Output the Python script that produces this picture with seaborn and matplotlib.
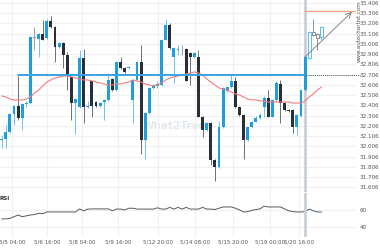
import matplotlib
matplotlib.use('Agg')
import matplotlib.pyplot as plt
import seaborn as sns
import pandas as pd
import numpy as np

# ---------------- data ----------------
opens = [32.065, 32.079, 32.147, 32.323, 32.401, 32.284, 32.421, 32.431, 33.070, 33.055,
         33.100, 33.060, 33.230, 33.170, 32.980, 33.020, 32.899, 32.680, 32.430, 32.390,
         32.870, 32.390, 32.640, 32.440, 32.400, 32.440, 32.460, 32.665, 32.557, 32.830,
         32.770, 32.770, 32.460, 32.655, 32.830, 32.069, 32.330, 32.580, 32.600, 32.610,
         33.045, 33.190, 32.880, 32.950, 32.960, 32.960, 32.920, 32.880, 32.880, 32.295,
         32.167, 32.235, 31.874, 31.806, 32.196, 32.550, 32.590, 32.645, 32.390, 32.313,
         32.069, 32.196, 32.245, 32.280, 32.390, 32.480, 32.295, 32.460, 32.620, 32.430,
         32.362, 32.362, 32.196, 32.300, 32.557, 32.870, 33.120, 33.100, 33.070]
highs = [32.118, 32.216, 32.333, 32.411, 32.694, 32.430, 32.450, 33.084, 33.170, 33.110,
         33.240, 33.250, 33.280, 33.180, 33.030, 33.030, 32.930, 32.690, 32.480, 32.947,
         32.960, 32.450, 32.650, 32.450, 32.440, 32.470, 32.720, 32.670, 32.840, 32.880,
         32.780, 32.790, 32.660, 32.840, 33.000, 32.340, 32.590, 32.620, 32.640, 33.050,
         33.250, 33.210, 32.980, 33.000, 33.000, 32.970, 32.930, 32.930, 32.947, 32.300,
         32.240, 32.240, 31.880, 32.250, 32.590, 32.600, 32.704, 32.684, 32.400, 32.320,
         32.200, 32.250, 32.300, 32.330, 32.500, 32.557, 32.470, 32.640, 32.650, 32.440,
         32.370, 32.370, 32.320, 32.560, 32.890, 33.130, 33.250, 33.110, 33.180]
lows = [31.990, 31.990, 32.137, 32.220, 32.265, 32.167, 32.390, 32.420, 32.947, 32.879,
        33.040, 33.050, 33.160, 32.830, 32.970, 32.772, 32.557, 32.265, 32.130, 32.380,
        32.235, 32.380, 32.293, 32.390, 32.390, 32.265, 32.450, 32.550, 32.550, 32.760,
        32.720, 32.760, 32.235, 32.650, 31.930, 31.880, 32.320, 32.570, 32.580, 32.600,
        33.040, 32.960, 32.625, 32.900, 32.900, 32.640, 32.606, 32.870, 32.290, 32.100,
        32.160, 31.826, 31.670, 31.800, 32.190, 32.540, 32.580, 32.380, 32.300, 31.880,
        32.060, 32.190, 32.240, 32.270, 32.293, 32.290, 32.290, 32.450, 32.235, 32.350,
        32.340, 32.140, 32.118, 32.290, 32.550, 32.860, 33.080, 32.950, 33.040]
closes = [32.075, 32.147, 32.323, 32.401, 32.284, 32.421, 32.431, 33.074, 33.065, 33.100,
          33.045, 33.230, 33.170, 32.980, 33.020, 32.899, 32.694, 32.430, 32.470, 32.870,
          32.390, 32.400, 32.400, 32.400, 32.430, 32.460, 32.655, 32.557, 32.830, 32.770,
          32.730, 32.780, 32.655, 32.830, 32.069, 32.330, 32.580, 32.610, 32.620, 33.045,
          33.190, 32.970, 32.970, 32.960, 32.955, 32.645, 32.880, 32.920, 32.295, 32.167,
          32.235, 31.874, 31.806, 32.196, 32.577, 32.590, 32.645, 32.390, 32.313, 32.069,
          32.196, 32.245, 32.280, 32.313, 32.480, 32.295, 32.460, 32.626, 32.430, 32.362,
          32.355, 32.196, 32.313, 32.557, 32.880, 33.120, 33.090, 33.060, 33.170]
ma_values = [32.499, 32.489, 32.469, 32.460, 32.460, 32.460, 32.469, 32.489, 32.528, 32.557,
             32.596, 32.635, 32.655, 32.674, 32.684, 32.694, 32.694, 32.684, 32.674, 32.665,
             32.655, 32.655, 32.645, 32.635, 32.626, 32.616, 32.606, 32.606, 32.616, 32.616,
             32.626, 32.635, 32.655, 32.645, 32.635, 32.616, 32.606, 32.596, 32.606, 32.626,
             32.655, 32.674, 32.684, 32.694, 32.704, 32.713, 32.723, 32.733, 32.723, 32.704,
             32.665, 32.635, 32.606, 32.577, 32.567, 32.557, 32.538, 32.518, 32.508, 32.489,
             32.469, 32.460, 32.460, 32.450, 32.450, 32.440, 32.440, 32.440, 32.440, 32.440,
             32.440, 32.430, 32.430, 32.430, 32.450, 32.489, 32.518, 32.557, 32.586]
rsi_values = [49.4, 49.4, 50.0, 52.0, 54.0, 52.0, 53.0, 54.0, 54.5, 56.0,
              55.5, 57.6, 57.6, 57.6, 57.6, 57.6, 57.6, 57.6, 57.6, 61.2,
              59.0, 61.0, 61.2, 61.2, 61.2, 61.2, 61.2, 59.0, 61.0, 61.0,
              60.0, 62.0, 62.0, 61.0, 61.0, 61.0, 61.0, 61.0, 62.5, 61.0,
              61.0, 63.0, 61.0, 63.0, 61.0, 63.0, 61.0, 61.0, 61.0, 63.0,
              61.0, 61.0, 60.5, 62.0, 63.5, 63.5, 63.5, 62.0, 60.0, 57.5,
              58.0, 59.5, 60.5, 61.2, 64.5, 63.5, 63.5, 63.5, 63.5, 61.2,
              59.0, 58.0, 57.6, 57.6, 58.0, 61.0, 59.0, 57.6, 57.6]
x_tick_labels = ['5/5 04:00', '5/6 16:00', '5/8 04:00', '5/9 16:00', '5/12 20:00',
                 '5/14 08:00', '5/15 20:00', '5/19 00:00', '5/20 16:00']
x_tick_pos = [2.5, 11.0, 19.6, 28.4, 38.1, 47.2, 56.4, 65.4, 72.5]
price_ticks = [31.606, 31.706, 31.806, 31.906, 32.006, 32.106, 32.206, 32.306, 32.406,
               32.506, 32.606, 32.706, 32.806, 32.906, 33.006, 33.106, 33.206, 33.306, 33.406]
rsi_ticks = [40, 60]
support_level = 32.706
target_level = 33.328
breakout_index = 74
line_start_index = 4
arrow_end_index = 85.4

# ---------------- styling ----------------
BLUE = '#1e9fdc'
BLUE_WICK = '#6cc3ec'
DARK = '#2a2e39'
DARK_WICK = '#6b6f76'
GRAY = '#9aa0a6'
GRID = '#eef0f3'
TXT = '#555555'

sns.set_style('white')
plt.rcParams['font.family'] = ['DejaVu Sans']

W, H = 380, 250
fig = plt.figure(figsize=(3.8, 2.5), dpi=100)
right_px = 356
ax = fig.add_axes([0, 1 - 192 / H, right_px / W, 192 / H])
ax2 = fig.add_axes([0, 1 - 237 / H, right_px / W, 44 / H])

df = pd.DataFrame({'o': opens, 'h': highs, 'l': lows, 'c': closes,
                   'ma': ma_values, 'rsi': rsi_values})
df['i'] = np.arange(len(df))

xmin = -1.7 / 4.1
xmax = (right_px - 1.7) / 4.1
for a in (ax, ax2):
    a.set_xlim(xmin, xmax)
    for s in a.spines.values():
        s.set_visible(False)
    a.set_xticks(x_tick_pos)
    a.xaxis.grid(True, color=GRID, lw=0.8)
    a.yaxis.grid(True, color=GRID, lw=0.8)
    a.set_axisbelow(True)
    a.yaxis.tick_right()
    a.tick_params(axis='both', length=0, labelsize=4.1, labelcolor=TXT, pad=2.6)

ax.set_ylim(31.562, 33.435)
ax.set_yticks(price_ticks)
ax.set_yticklabels([f'{v:.3f}' for v in price_ticks])
ax.set_xticklabels([])

ax2.set_ylim(28, 80)
ax2.set_yticks(rsi_ticks)
ax2.set_yticklabels([str(v) for v in rsi_ticks])
ax2.set_xticklabels(x_tick_labels)
ax2.tick_params(axis='x', pad=2, labelsize=4.0)

# candles
bw = 0.72
for r in df.itertuples():
    hollow = r.i > breakout_index
    if abs(r.c - r.o) < 0.006:
        col, wcol = GRAY, GRAY
    elif r.c > r.o:
        col, wcol = BLUE, BLUE_WICK
    else:
        col, wcol = DARK, DARK_WICK
    if hollow:
        wcol = BLUE_WICK if r.c > r.o else '#8a8f96'
        ecol = '#5bbbe8' if r.c > r.o else '#8a8f96'
    lo_b, hi_b = min(r.o, r.c), max(r.o, r.c)
    hgt = max(hi_b - lo_b, 0.006)
    ax.vlines(r.i, r.l, r.h, color=wcol, lw=0.7, zorder=3)
    if hollow:
        ax.bar(r.i, hgt, bottom=lo_b, width=bw, facecolor='white', edgecolor=ecol,
               lw=0.7, zorder=4)
    else:
        ax.bar(r.i, hgt, bottom=lo_b, width=bw, color=col, lw=0, zorder=4)

# moving average and rsi via seaborn
sns.lineplot(data=df, x='i', y='ma', ax=ax, color='#f27c7c', lw=0.8, zorder=5)
sns.lineplot(data=df, x='i', y='rsi', ax=ax2, color='#58595c', lw=0.7)
ax.set_xlabel(''); ax.set_ylabel('')
ax2.set_xlabel(''); ax2.set_ylabel('')

# support line, target, arrow, vertical marker
ax.plot([line_start_index, breakout_index], [support_level, support_level],
        color='#3aa3e0', lw=1.4, zorder=6)
ax.plot([breakout_index, xmax + 1], [support_level, support_level],
        color='#555555', lw=0.7, ls=(0, (1, 1)), zorder=6, clip_on=False)
ax.plot([breakout_index, xmax], [target_level, target_level],
        color='#f4a07c', lw=0.9, zorder=6)
ax.annotate('', xy=(arrow_end_index, target_level - 0.01),
            xytext=(breakout_index, closes[breakout_index]),
            arrowprops=dict(arrowstyle='->', color='#777777', lw=0.6,
                            shrinkA=0, shrinkB=0), zorder=7)
for a in (ax, ax2):
    a.axvline(breakout_index, color='#c9d0d6', lw=2.0, zorder=2.5)

# texts
ax.text(178 / W, 1 - 126 / H, 'What2Trade', transform=fig.transFigure,
        ha='center', va='center', fontsize=7.5, fontweight='bold',
        color='#e3e8ee', zorder=0.5)
fig.text(359 / W, 1 - 31 / H, 'www.autochartist.com', rotation=90,
         ha='center', va='center', fontsize=4, color=TXT)
fig.text(0.0, 1 - 198 / H, 'RSI', ha='left', va='center', fontsize=4,
         fontweight='bold', color='#333333')

fig.savefig('out.png', dpi=100, facecolor='white')
